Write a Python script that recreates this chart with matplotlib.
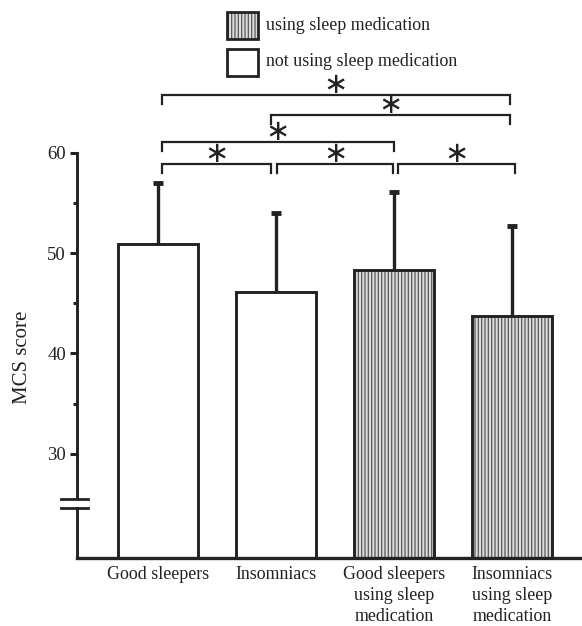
import matplotlib
matplotlib.use("Agg")
import matplotlib.pyplot as plt
from matplotlib.patches import Rectangle

categories = ["Good sleepers", "Insomniacs", "Good sleepers\nusing sleep\nmedication",
              "Insomniacs\nusing sleep\nmedication"]
means = [50.9, 46.1, 48.3, 43.7]
errors = [6.1, 7.9, 7.8, 9.0]
medicated = [False, False, True, True]
yticks = [30, 40, 50, 60]
minor_ticks = [35, 45, 55]
legend_labels = ["using sleep medication", "not using sleep medication"]
# significance comparisons: (group a, group b, bracket height)
comparisons = [(0, 3, 65.8), (1, 3, 63.8), (0, 2, 61.1), (0, 1, 58.9), (1, 2, 58.9), (2, 3, 58.9)]

plt.rcParams['font.family'] = ['Liberation Serif', 'DejaVu Serif']
plt.rcParams['hatch.linewidth'] = 0.9
plt.rcParams['hatch.color'] = '#5a5a5a'
ink = '#222222'

W, H = 582, 626
fig = plt.figure(figsize=(W / 100, H / 100), dpi=100)
ax = fig.add_axes([77 / W, (H - 558) / H, 1 - 77 / W, 558 / H])
ax.set_xlim(-0.686, 3.593)
ax.set_ylim(19.6, 75.25)

x = list(range(len(categories)))
width = 0.68
for xi, m, med in zip(x, means, medicated):
    if med:
        ax.bar(xi, m - 19.6, bottom=19.6, width=width, color='#dcdcdc', hatch='|||||',
               edgecolor='#5a5a5a', linewidth=0, zorder=2)
    ax.bar(xi, m - 19.6, bottom=19.6, width=width, fill=False, edgecolor=ink,
           linewidth=2.1, zorder=3)

eb = ax.errorbar(x, means, yerr=[[0] * len(x), errors], fmt='none', ecolor=ink,
                 elinewidth=2.4, capsize=3.6, capthick=3.5, zorder=1)
eb[1][0].set_visible(False)  # hide lower caps

for s in ['top', 'right']:
    ax.spines[s].set_visible(False)
ax.spines['left'].set_bounds(19.6, 60)
ax.spines['left'].set_linewidth(2.1)
ax.spines['bottom'].set_linewidth(2.4)
ax.spines['left'].set_color(ink)
ax.spines['bottom'].set_color(ink)

ax.set_yticks(yticks)
ax.set_yticks(minor_ticks, minor=True)
ax.tick_params(axis='y', which='major', length=5, width=2.2, labelsize=13.5, colors=ink, pad=3)
ax.tick_params(axis='y', which='minor', length=3, width=2.2, colors=ink)
ax.set_xticks(x)
ax.set_xticklabels(categories, fontsize=12.9, color=ink, linespacing=1.3)
ax.tick_params(axis='x', length=0, pad=6)

ax.set_ylabel("MCS score", fontsize=15, color=ink)
ax.yaxis.set_label_coords(-0.089, (39.6 - 19.6) / (75.25 - 19.6))

# axis break marks
for yb in (25.5, 24.6):
    ax.plot([-0.82, -0.59], [yb, yb], color=ink, lw=2, clip_on=False, zorder=5)
ax.add_patch(Rectangle((-0.70, 24.7), 0.03, 0.7, facecolor='white', edgecolor='none',
                       clip_on=False, zorder=4))

# significance brackets
for a, b, h in comparisons:
    xa = a + (0.03 if a == 0 else (-0.04 if (a == 1 and b == 3) else 0.03))
    xb = b + (-0.03 if b < 3 else (0.025 if a == 2 else -0.02))
    if a == 1 and b == 2:
        xa, xb = a + 0.01, b - 0.01
    if a == 0 and b == 1:
        xb = b - 0.04
    if a == 0 and b == 2:
        xb = b
    ax.plot([xa, xa, xb, xb], [h - 0.9, h, h, h - 0.9], color=ink, lw=1.6,
            solid_joinstyle='miter', zorder=5)
    ax.text((xa + xb) / 2, h + 1.25, "\u2217", fontsize=21, ha='center', va='center_baseline',
            color=ink, family=['DejaVu Sans'])

# legend
fig.patches.append(Rectangle((227 / W, 1 - 39 / H), 31 / W, 27 / H, transform=fig.transFigure,
                             facecolor='#dcdcdc', hatch='|||||', edgecolor='#5a5a5a', lw=0))
fig.patches.append(Rectangle((227 / W, 1 - 39 / H), 31 / W, 27 / H, transform=fig.transFigure,
                             fill=False, edgecolor=ink, lw=2))
fig.patches.append(Rectangle((227 / W, 1 - 76 / H), 31 / W, 27 / H, transform=fig.transFigure,
                             fill=False, edgecolor=ink, lw=2))
fig.text(266 / W, 1 - 26 / H, legend_labels[0], fontsize=12.9, va='center', color=ink)
fig.text(266 / W, 1 - 62 / H, legend_labels[1], fontsize=12.9, va='center', color=ink)

fig.savefig("out.png", dpi=100)
